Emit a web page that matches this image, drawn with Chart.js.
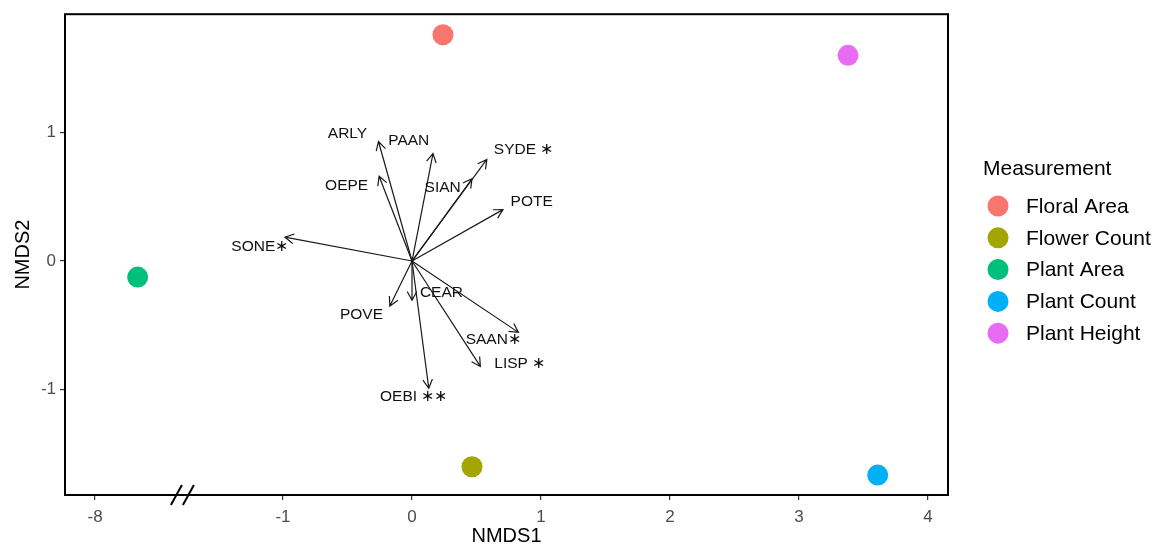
<!DOCTYPE html>
<html>
<head>
<meta charset="utf-8">
<script src="https://cdn.jsdelivr.net/npm/chart.js@4.4.0/dist/chart.umd.min.js"></script>
<style>
  body { margin: 0; background: #fff; }
</style>
</head>
<body>
<canvas id="nmds" width="1166" height="546"></canvas>
<script>
// group centroids (NMDS scores)
const groups = ['Floral Area', 'Flower Count', 'Plant Area', 'Plant Count', 'Plant Height'];
const groupX = [0.24, 0.465, -7.67, 3.61, 3.38];
const groupY = [1.76, -1.60, -0.125, -1.665, 1.60];
const groupColors = ['#F8766D', '#A3A500', '#00BF7D', '#00B0F6', '#E76BF3'];

// species vectors (envfit arrows) + where the labels sit
const species = ['ARLY', 'PAAN', 'SYDE', 'OEPE', 'SIAN', 'POTE', 'SONE', 'POVE', 'CEAR', 'SAAN', 'LISP', 'OEBI'];
const signif  = ['', '', ' \u2217', '', '', '', '\u2217', '', '', '\u2217', ' \u2217', ' \u2217\u2217'];
const vecX = [-0.26, 0.163, 0.58, -0.255, 0.465, 0.705, -0.985, -0.172, 0.0, 0.825, 0.53, 0.13];
const vecY = [0.93, 0.837, 0.79, 0.66, 0.64, 0.40, 0.186, -0.35, -0.305, -0.555, -0.82, -0.99];
const labX = [-0.50, -0.025, 0.865, -0.507, 0.238, 0.928, -1.18, -0.392, 0.228, 0.63, 0.835, 0.013];
const labY = [0.99, 0.935, 0.865, 0.587, 0.571, 0.465, 0.114, -0.415, -0.245, -0.61, -0.80, -1.057];

// axis ticks
const xTicks = [-8, -1, 0, 1, 2, 3, 4];
const yTicks = [-1, 0, 1];

// the x axis is broken: everything left of -5 is shifted right
const BREAK_FROM = -5;
const BREAK_SHIFT = 5.543;
const toAxis = v => (v < BREAK_FROM ? v + BREAK_SHIFT : v);

const datasets = groups.map((g, i) => ({
  label: g,
  data: [{ x: toAxis(groupX[i]), y: groupY[i] }],
  backgroundColor: groupColors[i],
  borderWidth: 0,
  pointRadius: 10.5,
  pointHoverRadius: 10.5
}));

const vectorPlugin = {
  id: 'vectors',
  beforeDatasetsDraw(chart) {
    const { ctx, scales: { x, y } } = chart;
    const x0 = x.getPixelForValue(0), y0 = y.getPixelForValue(0);
    ctx.save();
    ctx.strokeStyle = '#1a1a1a';
    ctx.lineWidth = 1.2;
    ctx.fillStyle = '#111';
    ctx.font = '15.5px "Liberation Sans", Arial, sans-serif';
    ctx.textAlign = 'center';
    ctx.textBaseline = 'middle';
    species.forEach((sp, i) => {
      const x1 = x.getPixelForValue(vecX[i]), y1 = y.getPixelForValue(vecY[i]);
      const ang = Math.atan2(y1 - y0, x1 - x0);
      const head = 10, spread = 0.5;
      ctx.beginPath();
      ctx.moveTo(x0, y0);
      ctx.lineTo(x1, y1);
      ctx.moveTo(x1 - head * Math.cos(ang - spread), y1 - head * Math.sin(ang - spread));
      ctx.lineTo(x1, y1);
      ctx.lineTo(x1 - head * Math.cos(ang + spread), y1 - head * Math.sin(ang + spread));
      ctx.stroke();
      ctx.fillText(sp + signif[i], x.getPixelForValue(labX[i]), y.getPixelForValue(labY[i]));
    });
    ctx.restore();
  }
};

const framePlugin = {
  id: 'frame',
  afterDraw(chart) {
    const { ctx, chartArea: a } = chart;
    ctx.save();
    ctx.strokeStyle = '#000';
    ctx.lineWidth = 2;
    ctx.strokeRect(a.left, a.top, a.right - a.left, a.bottom - a.top);
    // break marks on x axis
    const bx = chart.scales.x.getPixelForValue(-1.78);
    [-6, 6].forEach(d => {
      ctx.beginPath();
      ctx.moveTo(bx + d - 5.5, a.bottom + 10);
      ctx.lineTo(bx + d + 5.5, a.bottom - 10);
      ctx.stroke();
    });

    // legend
    const lx = 983, ly = 169;
    ctx.fillStyle = '#000';
    ctx.font = '21px "Liberation Sans", Arial, sans-serif';
    ctx.textAlign = 'left';
    ctx.textBaseline = 'middle';
    ctx.fillText('Measurement', lx, ly);
    groups.forEach((g, i) => {
      const yy = 206 + i * 31.8;
      ctx.fillStyle = groupColors[i];
      ctx.beginPath();
      ctx.arc(998, yy, 10.5, 0, Math.PI * 2);
      ctx.fill();
      ctx.fillStyle = '#000';
      ctx.fillText(g, 1026, yy + 1);
    });
    ctx.restore();
  }
};

new Chart(document.getElementById('nmds'), {
  type: 'scatter',
  data: { datasets },
  options: {
    responsive: false,
    animation: false,
    layout: { padding: { top: 12, right: 218, left: 0, bottom: 0 } },
    plugins: { legend: { display: false }, tooltip: { enabled: false } },
    scales: {
      x: {
        type: 'linear',
        min: -2.69,
        max: 4.155,
        afterBuildTicks: s => { s.ticks = xTicks.map(v => ({ value: toAxis(v) })); },
        afterFit: s => { s.height = 51; },
        ticks: {
          color: '#4d4d4d',
          font: { size: 17, family: '"Liberation Sans", Arial, sans-serif' },
          padding: 7,
          callback: (v, idx) => String(xTicks[idx])
        },
        grid: { display: true, drawOnChartArea: false, drawTicks: true, tickLength: 5, color: '#333', lineWidth: 1.2 },
        border: { display: false },
        title: {
          display: true, text: 'NMDS1', color: '#000',
          font: { size: 20, family: '"Liberation Sans", Arial, sans-serif' },
          padding: { top: 0, bottom: -2 }
        }
      },
      y: {
        type: 'linear',
        min: -1.82,
        max: 1.92,
        afterBuildTicks: s => { s.ticks = yTicks.map(v => ({ value: v })); },
        afterFit: s => { s.width = 65; },
        ticks: {
          color: '#4d4d4d',
          font: { size: 17, family: '"Liberation Sans", Arial, sans-serif' },
          padding: 4,
          callback: v => String(v)
        },
        grid: { display: true, drawOnChartArea: false, drawTicks: true, tickLength: 5, color: '#333', lineWidth: 1.2 },
        border: { display: false },
        title: {
          display: true, text: 'NMDS2', color: '#000',
          font: { size: 20, family: '"Liberation Sans", Arial, sans-serif' },
          padding: { top: 11, bottom: 0 }
        }
      }
    }
  },
  plugins: [vectorPlugin, framePlugin]
});
</script>
</body>
</html>
